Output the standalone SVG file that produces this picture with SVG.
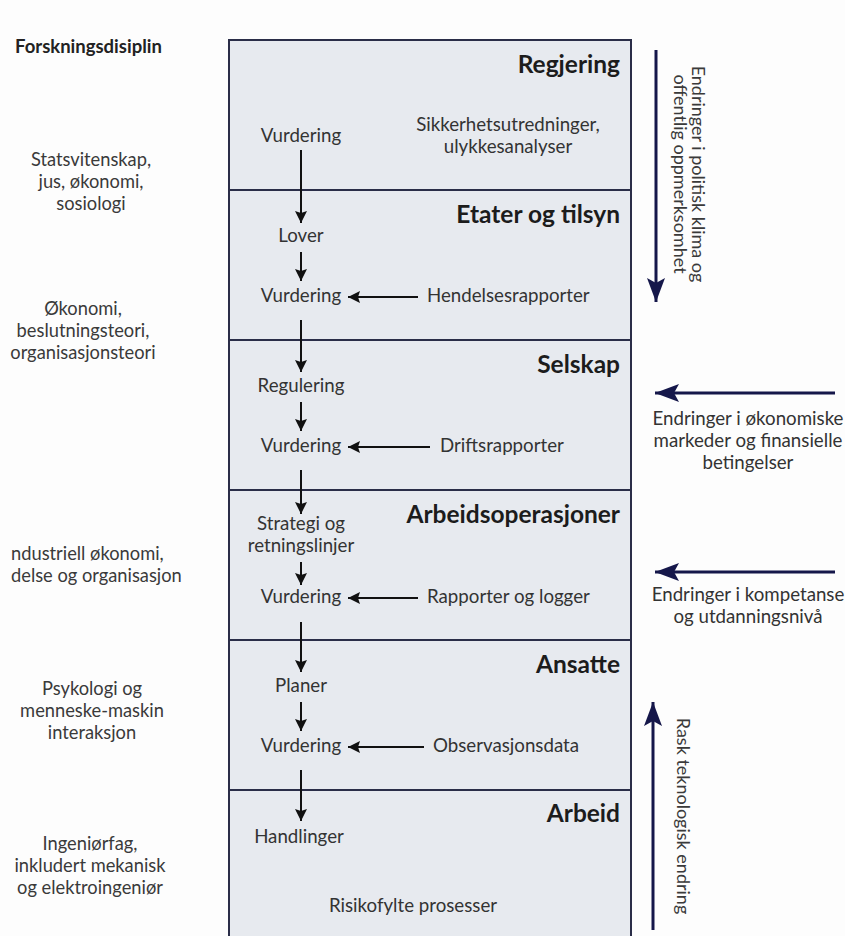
<svg xmlns="http://www.w3.org/2000/svg" width="845" height="936" viewBox="0 0 845 936">
  <style>
    .t { font-family: Lato, "Open Sans", "Liberation Sans", sans-serif; fill: #333; font-size: 18.7px; }
    .c { text-anchor: middle; }
    .h { font-family: Lato, "Open Sans", "Liberation Sans", sans-serif; font-weight: bold; font-size: 24.5px; fill: #1c1c1c; text-anchor: end; }
    .lbl { font-family: Lato, "Open Sans", "Liberation Sans", sans-serif; fill: #3a3a3a; font-size: 18.3px; }
    .vt { font-family: Lato, "Open Sans", "Liberation Sans", sans-serif; fill: #3a3a3a; font-size: 18px; text-anchor: middle; }
    .flow { stroke: #111; stroke-width: 2; fill: none; marker-end: url(#a); }
    .ext { stroke: #15174a; stroke-width: 3; fill: none; marker-end: url(#b); }
    .div { stroke: #2a2d48; stroke-width: 2; }
  </style>
  <defs>
    <marker id="a" markerUnits="userSpaceOnUse" markerWidth="13" markerHeight="12" refX="12" refY="6" orient="auto">
      <path d="M0,0 L12,6 L0,12 L2,6 Z" fill="#111"/>
    </marker>
    <marker id="b" markerUnits="userSpaceOnUse" markerWidth="26" markerHeight="20" refX="24" refY="10" orient="auto">
      <path d="M0,1 L24,10 L0,19 L5,10 Z" fill="#15174a"/>
    </marker>
  </defs>

  <rect width="845" height="936" fill="#fdfdfd"/>

  <!-- level panel -->
  <g id="panel">
    <rect x="229" y="40" width="402" height="910" fill="#e7eaef" stroke="#2a2d48" stroke-width="2"/>
    <line class="div" x1="229" y1="190" x2="631" y2="190"/>
    <line class="div" x1="229" y1="340" x2="631" y2="340"/>
    <line class="div" x1="229" y1="490" x2="631" y2="490"/>
    <line class="div" x1="229" y1="640" x2="631" y2="640"/>
    <line class="div" x1="229" y1="790" x2="631" y2="790"/>
  </g>

  <!-- research disciplines column -->
  <g id="disciplines">
    <text x="15" y="53" class="lbl" style="font-weight:bold;font-size:18.5px;fill:#222">Forskningsdisiplin</text>
    <text class="lbl c" x="91" y="166">Statsvitenskap,</text>
    <text class="lbl c" x="91" y="188">jus, økonomi,</text>
    <text class="lbl c" x="91" y="210">sosiologi</text>
    <text class="lbl c" x="83" y="315">Økonomi,</text>
    <text class="lbl c" x="83" y="337">beslutningsteori,</text>
    <text class="lbl c" x="83" y="359">organisasjonsteori</text>
    <text class="lbl" x="11" y="560">ndustriell økonomi,</text>
    <text class="lbl" x="11" y="582">delse og organisasjon</text>
    <text class="lbl c" x="92" y="695">Psykologi og</text>
    <text class="lbl c" x="92" y="717">menneske-maskin</text>
    <text class="lbl c" x="92" y="739">interaksjon</text>
    <text class="lbl c" x="90" y="850">Ingeniørfag,</text>
    <text class="lbl c" x="90" y="872">inkludert mekanisk</text>
    <text class="lbl c" x="90" y="894">og elektroingeniør</text>
  </g>

  <!-- level nodes -->
  <g id="regjering">
    <text class="h" x="620" y="73">Regjering</text>
    <text class="t c" x="301" y="142">Vurdering</text>
    <text class="t c" x="508" y="131">Sikkerhetsutredninger,</text>
    <text class="t c" x="508" y="153">ulykkesanalyser</text>
  </g>
  <g id="etater">
    <text class="h" x="620" y="223">Etater og tilsyn</text>
    <text class="t c" x="301" y="242">Lover</text>
    <text class="t c" x="301" y="302">Vurdering</text>
    <text class="t" x="427" y="302">Hendelsesrapporter</text>
  </g>
  <g id="selskap">
    <text class="h" x="620" y="373">Selskap</text>
    <text class="t c" x="301" y="392">Regulering</text>
    <text class="t c" x="301" y="452">Vurdering</text>
    <text class="t" x="440" y="452">Driftsrapporter</text>
  </g>
  <g id="arbeidsoperasjoner">
    <text class="h" x="620" y="523">Arbeidsoperasjoner</text>
    <text class="t c" x="301" y="530">Strategi og</text>
    <text class="t c" x="301" y="552">retningslinjer</text>
    <text class="t c" x="301" y="603">Vurdering</text>
    <text class="t" x="427" y="603">Rapporter og logger</text>
  </g>
  <g id="ansatte">
    <text class="h" x="620" y="673">Ansatte</text>
    <text class="t c" x="301" y="692">Planer</text>
    <text class="t c" x="301" y="752">Vurdering</text>
    <text class="t" x="433" y="752">Observasjonsdata</text>
  </g>
  <g id="arbeid">
    <text class="h" x="620" y="822">Arbeid</text>
    <text class="t c" x="299" y="843">Handlinger</text>
    <text class="t c" x="413" y="912">Risikofylte prosesser</text>
  </g>

  <!-- external pressures -->
  <g id="external">
    <text class="vt" transform="translate(692,174) rotate(90)">Endringer i politisk klima og</text>
    <text class="vt" transform="translate(674,174) rotate(90)">offentlig oppmerksomhet</text>
    <text class="t c" x="748" y="425">Endringer i økonomiske</text>
    <text class="t c" x="748" y="447">markeder og finansielle</text>
    <text class="t c" x="748" y="469">betingelser</text>
    <text class="t c" x="748" y="601">Endringer i kompetanse</text>
    <text class="t c" x="748" y="623">og utdanningsnivå</text>
    <text class="vt" transform="translate(677,816) rotate(90)">Rask teknologisk endring</text>
  </g>

  <!-- connectors -->
  <g id="connectors">
    <line class="flow" x1="301" y1="150" x2="301" y2="223"/>
    <line class="flow" x1="301" y1="252" x2="301" y2="281"/>
    <line class="flow" x1="418" y1="297" x2="348" y2="297"/>
    <line class="flow" x1="301" y1="320" x2="301" y2="372"/>
    <line class="flow" x1="301" y1="402" x2="301" y2="431"/>
    <line class="flow" x1="430" y1="447" x2="348" y2="447"/>
    <line class="flow" x1="301" y1="470" x2="301" y2="514"/>
    <line class="flow" x1="301" y1="562" x2="301" y2="585"/>
    <line class="flow" x1="418" y1="598" x2="348" y2="598"/>
    <line class="flow" x1="301" y1="622" x2="301" y2="672"/>
    <line class="flow" x1="301" y1="702" x2="301" y2="731"/>
    <line class="flow" x1="424" y1="747" x2="348" y2="747"/>
    <line class="flow" x1="301" y1="770" x2="301" y2="821"/>

    <line class="ext" x1="656" y1="50" x2="656" y2="302"/>
    <line class="ext" x1="835" y1="393" x2="655" y2="393"/>
    <line class="ext" x1="835" y1="572" x2="655" y2="572"/>
    <line class="ext" x1="653" y1="930" x2="653" y2="702"/>
  </g>
</svg>
